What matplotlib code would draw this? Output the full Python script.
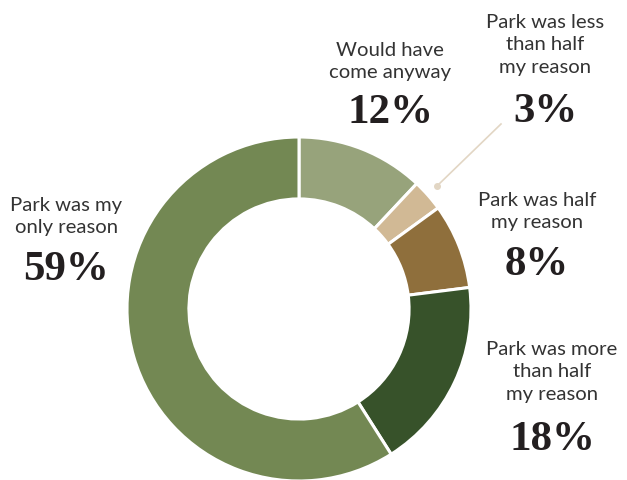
import matplotlib.pyplot as plt

labels = ["Would have\ncome anyway", "Park was less\nthan half\nmy reason",
          "Park was half\nmy reason", "Park was more\nthan half\nmy reason",
          "Park was my\nonly reason"]
shares = [12, 3, 8, 18, 59]
colors = ["#97a37b", "#d1b995", "#8f6f3c", "#37522a", "#738853"]

# label anchor (x, top-of-text y, percentage y) in pixels from top-left
label_pos = [(390, 48, 113), (545, 18, 112), (537, 198, 265),
             (552, 345, 440), (66, 203, 270)]

W, H = 627, 481
fig = plt.figure(figsize=(W / 100, H / 100), dpi=100)
ax = fig.add_axes([0, 0, 1, 1])

cx, cy, r = 299, H - 310, 172
ax.pie(shares, colors=colors, startangle=90, counterclock=False,
       center=(cx, cy), radius=r, frame=True,
       wedgeprops=dict(width=r * 0.36, edgecolor="white", linewidth=2.2))
ax.set_xlim(0, W)
ax.set_ylim(0, H)
ax.set_aspect("equal")
ax.axis("off")

label_font = ["Lato", "DejaVu Sans"]
num_font = ["Liberation Serif", "DejaVu Serif"]
for text, share, (x, ty, py) in zip(labels, shares, label_pos):
    n = text.count("\n") + 1
    mid = ty + (n - 1) * 13.5
    ax.text(x, H - mid, text, ha="center", va="center", fontsize=14.6,
            family=label_font, color="#333333", linespacing=1.42)
    ax.text(x, H - py, f"{share}%", ha="center", va="center", fontsize=31,
            family=num_font, fontweight="bold", color="#231f20")

# leader line for the small slice
ax.plot([437, 501], [H - 187, H - 125], color="#e2d6c4", lw=1.2)
ax.plot([437], [H - 187], "o", color="#e2d6c4", ms=4)

fig.savefig("out.png", dpi=100)
